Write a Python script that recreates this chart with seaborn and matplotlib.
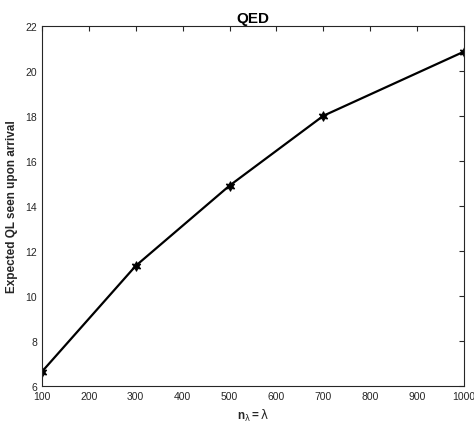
import matplotlib
matplotlib.use("Agg")
import matplotlib.pyplot as plt
import seaborn as sns
import pandas as pd

x_vals = [100, 300, 500, 700, 1000]
y_vals = [6.64, 11.34, 14.9, 18.0, 20.85]
x_ticks = [100, 200, 300, 400, 500, 600, 700, 800, 900, 1000]
y_ticks = [6, 8, 10, 12, 14, 16, 18, 20, 22]

sns.set_style("white")
plt.rcParams['font.family'] = ['Liberation Sans', 'DejaVu Sans']
plt.rcParams['mathtext.fontset'] = 'custom'
plt.rcParams['mathtext.rm'] = 'DejaVu Sans'
plt.rcParams['mathtext.bf'] = 'Liberation Sans:bold'
plt.rcParams['mathtext.it'] = 'DejaVu Sans'

df = pd.DataFrame({"x": x_vals, "y": y_vals})

fig = plt.figure(figsize=(4.74, 4.31), dpi=100)
ax = fig.add_axes([0.0886, 0.102, 0.8903, 0.836])
sns.lineplot(data=df, x="x", y="y", ax=ax, color="black", linewidth=1.6,
             marker=(6, 1, 0), markersize=7, markeredgecolor="black",
             markerfacecolor="black")

ax.set_xlim(100, 1000)
ax.set_ylim(6, 22)
ax.set_xticks(x_ticks)
ax.set_yticks(y_ticks)
gray = "#262626"
for s in ax.spines.values():
    s.set_color(gray)
    s.set_linewidth(0.8)
ax.tick_params(direction="in", length=3.5, width=0.8, colors=gray,
               labelsize=7.5, top=True, right=True, labelcolor=gray)
ax.set_title("QED", fontsize=11, fontweight="bold", pad=3, color="black")
ax.set_xlabel(r"$\mathbf{n}_{\mathrm{\lambda}}\mathbf{=}\mathrm{\lambda}$", fontsize=8.5,
              color=gray, labelpad=4)
ax.set_ylabel("Expected QL seen upon arrival", fontsize=8.5, fontweight="bold",
              color=gray, labelpad=5)

fig.savefig("out.png", dpi=100)
